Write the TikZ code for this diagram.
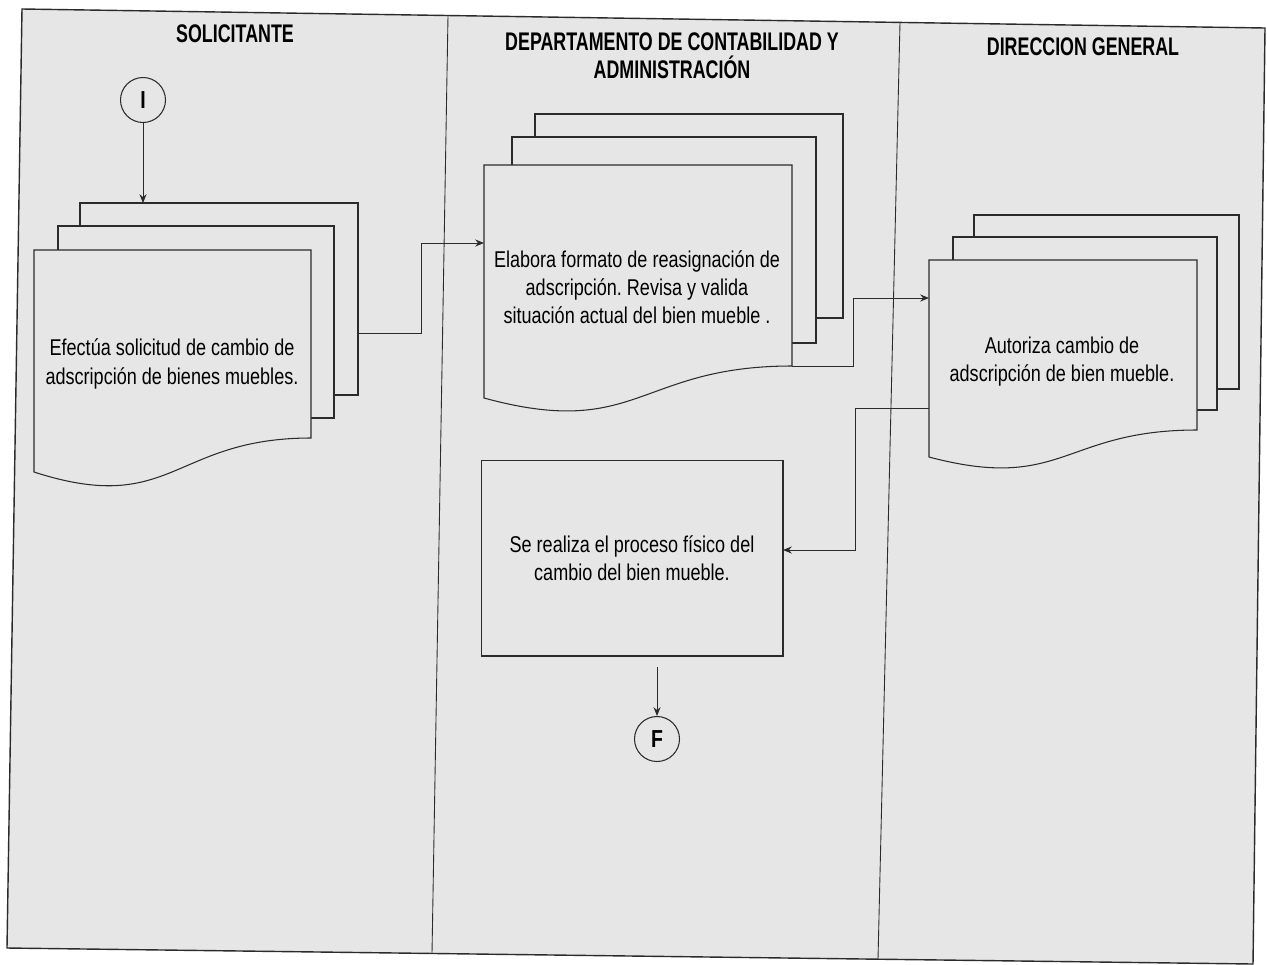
\documentclass[tikz,border=0pt]{standalone}
\usepackage{fontspec}
\setmainfont[FakeStretch=0.79]{Liberation Sans}
\newfontfamily\headfont[FakeStretch=0.70]{Liberation Sans}
\usetikzlibrary{arrows.meta}
\frenchspacing
\definecolor{paper}{HTML}{E6E6E6}
\definecolor{ink}{HTML}{2B2B2B}
\tikzset{
  sheet/.style={draw=ink, fill=paper, line width=0.6pt},
  frameline/.style={draw=ink, line width=0.8pt},
  laneline/.style={draw=ink, line width=0.5pt},
  conn/.style={draw=ink, line width=0.5pt, -{Stealth[length=5pt,width=4pt]}},
  txt/.style={align=center, font=\fontsize{13}{16}\selectfont, inner sep=0pt},
  head/.style={align=center, font=\headfont\bfseries\fontsize{14.5}{16}\selectfont, inner sep=0pt},
  terminal/.style={draw=ink, circle, fill=paper, line width=0.6pt, minimum size=0.9cm,
    inner sep=0pt, font=\bfseries\fontsize{14}{16}\selectfont},
  procbox/.style={draw=ink, fill=paper, line width=0.6pt, rectangle, inner sep=0pt,
    align=center, font=\fontsize{13}{16}\selectfont}
}
% sheet with a wavy lower edge: left x, top y, right x, right-bottom y, left-bottom y
\newcommand\wavesheet[5]{%
  \path[sheet] (#1,#2) -- (#3,#2) -- (#3,#4)
    .. controls ({(#1+#3)/2},#4) and ({(#1+#3)/2},{#4+2.316*(#5-#4)}) .. (#1,#5) -- cycle;}
\begin{document}
\begin{tikzpicture}[x=0.02cm, y=-0.02cm]
  \useasboundingbox (0,0) rectangle (1267,964);
  \fill[white] (0,0) rectangle (1267,964);

  % swimlane frame (sheet sits slightly askew on the page)
  \path[frameline, fill=paper] (22,9) -- (1265,28) -- (1253,964) -- (7,948) -- cycle;
  \draw[laneline] (448,15.5) -- (432,953.5);
  \draw[laneline] (900,22.4) -- (878,959.2);

  % lane titles
  \node[head] (h1) at (235,34) {SOLICITANTE};
  \node[head] (h2) at (672,56) {DEPARTAMENTO DE CONTABILIDAD Y\\ADMINISTRACIÓN};
  \node[head] (h3) at (1083,47) {DIRECCION GENERAL};

  % lane 1: request documents
  \path[sheet] (80,203) rectangle (358,395);
  \path[sheet] (58,226) rectangle (334,418);
  \wavesheet{34}{250}{311}{438}{472}
  \node[txt] (doc1) at (172,364) {Efectúa solicitud de cambio de\\adscripción de bienes muebles.};

  % lane 2: reassignment form
  \path[sheet] (535,114) rectangle (843,318);
  \path[sheet] (512,137) rectangle (816,343);
  \wavesheet{484}{165}{792}{366}{398}
  \node[txt] (doc2) at (637,287) {Elabora formato de reasignación de\\adscripción. Revisa y valida\\situación actual del bien mueble .};

  % lane 3: authorisation
  \path[sheet] (974,215) rectangle (1239,389);
  \path[sheet] (953,237) rectangle (1217,410);
  \wavesheet{929}{260}{1197}{430}{457}
  \node[txt] (doc3) at (1062,362) {Autoriza cambio de\\adscripción de bien mueble.};

  % physical change
  \node[procbox, minimum width=6.04cm, minimum height=3.92cm] (proc) at (632,558)
    {Se realiza el proceso físico del\\cambio del bien mueble.};

  % start / end terminals
  \node[terminal] (ini) at (143,100) {I};
  \node[terminal] (fin) at (657,739) {F};

  % connector end points on the document outlines
  \coordinate (d1in)  at (143,203);
  \coordinate (d1out) at (358,333);
  \coordinate (d2in)  at (484,243);
  \coordinate (d2out) at (792,366);
  \coordinate (d3in)  at (929,298);
  \coordinate (d3out) at (929,408);
  \coordinate (pin)   at (783,550);
  \coordinate (pout)  at (657,667);

  \draw[conn] (ini) -- (d1in);
  \draw[conn] (d1out) -- ++(63,0) |- (d2in);
  \draw[conn] (d2out) -- ++(61,0) |- (d3in);
  \draw[conn] (d3out) -- ++(-74,0) |- (pin);
  \draw[conn] (pout) -- (fin);
\end{tikzpicture}
\end{document}
